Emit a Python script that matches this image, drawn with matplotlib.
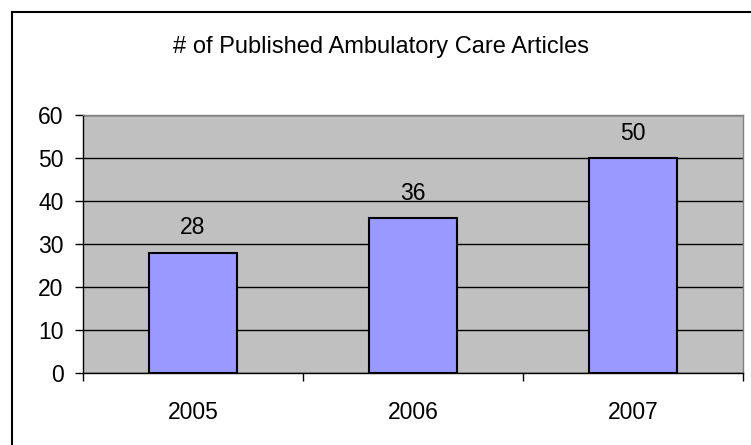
import matplotlib
matplotlib.use("Agg")
import matplotlib.pyplot as plt
from matplotlib.lines import Line2D

years = ["2005", "2006", "2007"]
articles = [28, 36, 50]
title = "# of Published Ambulatory Care Articles"

plt.rcParams['font.family'] = ['Liberation Sans', 'DejaVu Sans']
FS = 16.5

W, H = 751, 445
fig = plt.figure(figsize=(W / 100, H / 100), dpi=100)
fig.patch.set_facecolor('white')

ax = fig.add_axes([83 / W, (H - 373) / H, 660 / W, 258 / H])
ax.set_facecolor('#C0C0C0')
x = list(range(len(years)))
bars = ax.bar(x, articles, width=0.4, color='#9999FF', edgecolor='black', linewidth=1.5, zorder=3)

ax.set_xlim(-0.5, len(years) - 0.5)
ax.set_ylim(0, 60)
ax.set_yticks(range(0, 61, 10))
ax.yaxis.grid(True, color='black', linewidth=1.0, zorder=1)
ax.set_axisbelow(True)

ax.set_xticks(x)
ax.set_xticklabels(years, fontsize=FS)
ax.tick_params(axis='x', which='major', length=0, pad=20)
ax.set_xticks([i - 0.5 for i in range(len(years) + 1)], minor=True)
ax.tick_params(axis='x', which='minor', length=6, width=1, color='black', direction='out')
ax.tick_params(axis='y', length=6, width=1, pad=8, labelsize=FS, direction='out')

for s in ['left', 'bottom']:
    ax.spines[s].set_color('black')
    ax.spines[s].set_linewidth(1.0)
for s in ['top', 'right']:
    ax.spines[s].set_color('#808080')
    ax.spines[s].set_linewidth(1.0)

for xi, v in zip(x, articles):
    ax.annotate(str(v), (xi, v), xytext=(0, 18), textcoords='offset points',
                ha='center', va='center', fontsize=FS)

fig.text(381 / W, 1 - 47 / H, title, ha='center', va='center', fontsize=FS + 0.5)

# figure border (left and top visible)
fig.add_artist(Line2D([11.5 / W, 11.5 / W], [0, 1 - 12 / H], color='black', linewidth=1.5, transform=fig.transFigure))
fig.add_artist(Line2D([11.5 / W, 1], [1 - 12 / H, 1 - 12 / H], color='black', linewidth=1.5, transform=fig.transFigure))

fig.savefig('out.png', dpi=100)
